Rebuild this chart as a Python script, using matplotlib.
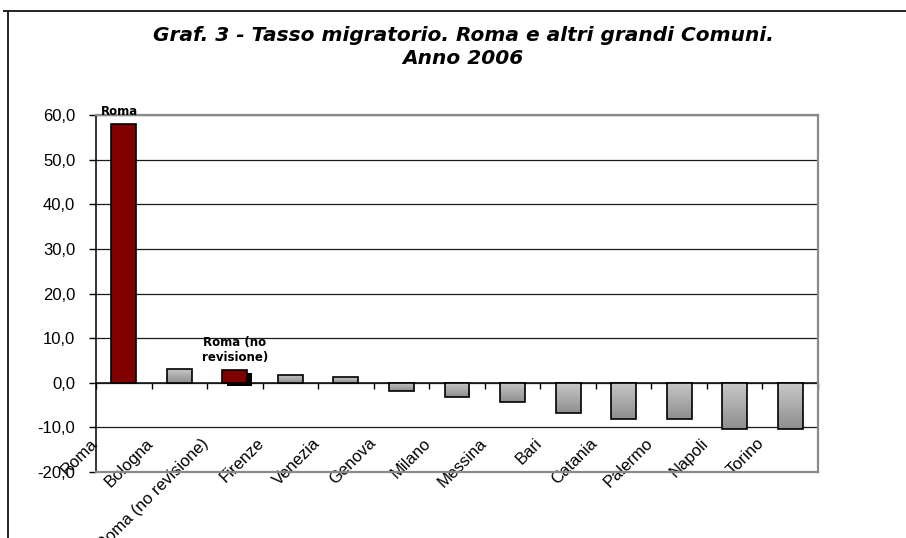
import numpy as np
import matplotlib
matplotlib.use("Agg")
import matplotlib.pyplot as plt
from matplotlib import patheffects as pe
from matplotlib.lines import Line2D
from matplotlib.colors import LinearSegmentedColormap
from matplotlib.transforms import ScaledTranslation

# Migration rate by municipality, 2006
comuni = ["Roma", "Bologna", "Roma (no revisione)", "Firenze", "Venezia",
          "Genova", "Milano", "Messina", "Bari", "Catania", "Palermo",
          "Napoli", "Torino"]
tasso = [58.0, 3.1, 2.9, 1.8, 1.3, -1.9, -3.3, -4.3, -6.7, -8.2, -8.2,
         -10.3, -10.3]
evidenziati = ["Roma", "Roma (no revisione)"]
etichette = {"Roma": "Roma", "Roma (no revisione)": "Roma (no\nrevisione)"}
y_ticks = [-20, -10, 0, 10, 20, 30, 40, 50, 60]

plt.rcParams['font.family'] = ['Liberation Sans', 'DejaVu Sans']

W, H = 906, 538
fig = plt.figure(figsize=(W / 100, H / 100), dpi=100)
ax = fig.add_axes([96 / W, 1 - 472 / H, 722 / W, 357 / H])

x = np.arange(len(comuni))
ymin, ymax = y_ticks[0], y_ticks[-1]
colors = ['#800000' if c in evidenziati else '#b4b4b4' for c in comuni]
bars = ax.bar(x, tasso, width=0.45, color=colors, edgecolor='black',
              linewidth=1.2, zorder=4)

# vertical gradient on the grey bars
grad = np.linspace(0, 1, 256).reshape(-1, 1)
cmap = LinearSegmentedColormap.from_list('grigio', ['#c8c8c8', '#8e8e8e'])
for bar, c in zip(bars, comuni):
    if c in evidenziati:
        continue
    bx, by = bar.get_x(), bar.get_y()
    w, h = bar.get_width(), bar.get_height()
    lo, hi = min(by, by + h), max(by, by + h)
    im = ax.imshow(grad, cmap=cmap, aspect='auto', origin='upper',
                   extent=(bx, bx + w, lo, hi), zorder=3.5)
    im.set_clip_path(bar)
    bar.set_facecolor('none')

# drop shadow on the "no revisione" bar
idx_nr = comuni.index("Roma (no revisione)")
bars[idx_nr].set_path_effects([
    pe.SimplePatchShadow(offset=(3.5, -2.2), shadow_rgbFace='black', alpha=1.0),
    pe.Normal()])

ax.set_xlim(-0.5, len(comuni) - 0.5)
ax.set_ylim(ymin, ymax)
ax.set_yticks(y_ticks)
ax.set_yticklabels([f"{v:.1f}".replace('.', ',') for v in y_ticks],
                   fontsize=12)
ax.tick_params(axis='y', direction='out', length=5, width=1, pad=10,
               colors='black')
ax.tick_params(axis='x', bottom=False, labelbottom=False)
ax.yaxis.grid(True, color='#1a1a1a', linewidth=0.9)
ax.set_axisbelow(True)

for s in ['top', 'right', 'bottom']:
    ax.spines[s].set_color('#8a8a8a')
    ax.spines[s].set_linewidth(1.6)
ax.spines['left'].set_color('black')
ax.spines['left'].set_linewidth(1.1)

# category axis crossing at zero
sec = ax.secondary_xaxis((0 - ymin) / (ymax - ymin))
bordi = list(x - 0.5) + [x[-1] + 0.5]
sec.set_xticks(bordi)
sec.set_xticklabels(comuni + [""], rotation=45, ha='right',
                    rotation_mode='anchor', fontsize=12)
sec.tick_params(axis='x', direction='out', length=4, width=1, pad=34)
sec.spines['bottom'].set_color('black')
sec.spines['bottom'].set_linewidth(1.1)
shift = ScaledTranslation(-6 / 100, 0, fig.dpi_scale_trans)
for lab in sec.get_xticklabels():
    lab.set_transform(lab.get_transform() + shift)

# labels above the highlighted bars
for c, v in zip(comuni, tasso):
    if c in etichette:
        i = comuni.index(c)
        off = 9 if c == "Roma" else 14
        dx = -3 if c == "Roma" else 0
        ax.annotate(etichette[c], xy=(i, v), xytext=(dx, off),
                    textcoords='offset points', ha='center', va='center',
                    fontsize=8.5, fontweight='bold', linespacing=1.2,
                    family=['DejaVu Sans'],
                    zorder=6, annotation_clip=False)

fig.text(463 / W, 1 - 47 / H,
         "Graf. 3 - Tasso migratorio. Roma e altri grandi Comuni.\nAnno 2006",
         ha='center', va='center', fontsize=14.5, fontweight='bold',
         fontstyle='italic', linespacing=1.25, family=['DejaVu Sans'])

# outer chart frame
fig.add_artist(Line2D([4 / W, 1], [1 - 11 / H] * 2, transform=fig.transFigure,
                      color='#222222', linewidth=1.4))
fig.add_artist(Line2D([8 / W, 8 / W], [0, 1 - 11 / H],
                      transform=fig.transFigure, color='#222222',
                      linewidth=1.4))

fig.savefig("out.png", dpi=100)
